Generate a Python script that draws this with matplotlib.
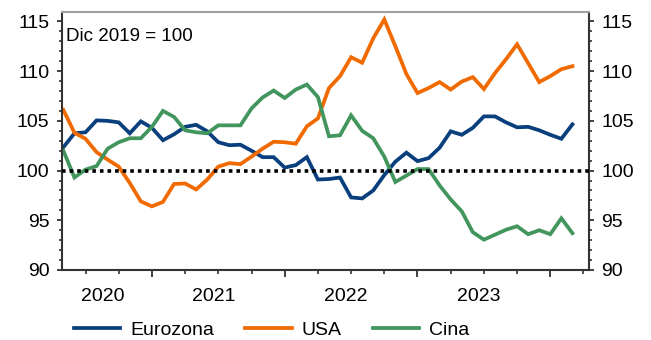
import matplotlib
matplotlib.use("Agg")
import matplotlib.pyplot as plt
import numpy as np
from matplotlib.ticker import MultipleLocator

plt.rcParams['font.family'] = ['Liberation Sans', 'DejaVu Sans']

# monthly index, May 2020 - Mar 2024 (Dic 2019 = 100)
eurozona = [102.35, 103.75, 103.85, 105.05, 105.0, 104.85, 103.75, 104.95, 104.3, 103.05,
            103.65, 104.4, 104.6, 103.95, 102.85, 102.55, 102.6, 102.0, 101.35, 101.35,
            100.3, 100.55, 101.35, 99.1, 99.15, 99.3, 97.3, 97.2, 98.0, 99.55,
            100.9, 101.8, 100.95, 101.25, 102.3, 103.95, 103.6, 104.3, 105.45, 105.45,
            104.85, 104.35, 104.4, 104.05, 103.6, 103.2, 104.65]
usa = [106.1, 103.8, 103.2, 101.85, 101.1, 100.4, 98.75, 96.9, 96.4, 96.85,
       98.65, 98.7, 98.1, 99.1, 100.4, 100.75, 100.65, 101.4, 102.2, 102.9,
       102.85, 102.7, 104.45, 105.25, 108.3, 109.5, 111.4, 110.85, 113.3, 115.2,
       112.5, 109.7, 107.8, 108.3, 108.9, 108.15, 108.95, 109.4, 108.2, 109.8,
       111.2, 112.7, 110.8, 108.9, 109.5, 110.2, 110.5]
cina = [102.0, 99.3, 100.1, 100.45, 102.2, 102.85, 103.25, 103.25, 104.4, 106.0,
        105.4, 104.05, 103.85, 103.75, 104.55, 104.55, 104.55, 106.25, 107.35, 108.05,
        107.3, 108.15, 108.65, 107.4, 103.45, 103.55, 105.55, 104.0, 103.25, 101.4,
        98.85, 99.5, 100.15, 100.15, 98.5, 97.1, 95.9, 93.8, 93.05, 93.55,
        94.05, 94.4, 93.6, 94.0, 93.6, 95.2, 93.7]
anni = ['2020', '2021', '2022', '2023']

x = np.arange(len(eurozona))

fig = plt.figure(figsize=(6.51, 3.40), dpi=100)
ax = fig.add_axes([0.0948, 0.2059, 0.8100, 0.7588])

ax.plot(x, eurozona, color='#083f7c', lw=2.7, label='Eurozona', solid_joinstyle='miter')
ax.plot(x, usa, color='#f06a00', lw=2.7, label='USA', solid_joinstyle='miter')
ax.plot(x, cina, color='#42955d', lw=2.7, label='Cina', solid_joinstyle='miter')
ax.axhline(100, color='black', lw=2.6, linestyle=(0, (1, 1.1)), zorder=5)

ax.set_xlim(-0.15, 47.5)
ax.set_ylim(90, 115.95)

# y axis on both sides
ax.yaxis.set_major_locator(MultipleLocator(5))
ax.yaxis.set_minor_locator(MultipleLocator(1))
ax.tick_params(axis='y', which='major', direction='out', length=3.8, width=1.3,
               labelsize=14, left=True, right=True, labelleft=True, labelright=True,
               pad=5, color='#333333')
ax.tick_params(axis='y', which='minor', direction='out', length=2.2, width=1.2,
               left=True, right=True, color='#333333')

# x axis: year boundaries + quarters
ax.set_xticks([8, 20, 32, 44])
ax.set_xticks(np.arange(2, 48, 3), minor=True)
ax.tick_params(axis='x', which='major', direction='out', length=4.8, width=1.3,
               labelbottom=False, color='#333333')
ax.tick_params(axis='x', which='minor', direction='out', length=2.6, width=1.2,
               color='#333333')
for pos, a in zip([3.6, 13.55, 25.55, 37.55], anni):
    ax.text(pos, -0.103, a, transform=ax.get_xaxis_transform(),
            ha='center', va='center', fontsize=14)

for s in ['left', 'bottom', 'right']:
    ax.spines[s].set_color('#333333')
    ax.spines[s].set_linewidth(1.5)
ax.spines['top'].set_color('#a0a0a0')
ax.spines['top'].set_linewidth(1.5)

ax.text(0.008, 0.905, 'Dic 2019 = 100', transform=ax.transAxes,
        ha='left', va='center', fontsize=13.5)

fig.legend(loc='center', bbox_to_anchor=(0.417, 0.03), ncol=3, frameon=False,
           fontsize=14, handlelength=2.4, handletextpad=0.5, columnspacing=1.6,
           borderpad=0)

fig.savefig('out.png', dpi=100)
